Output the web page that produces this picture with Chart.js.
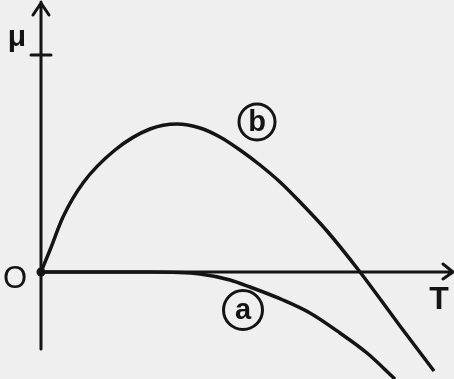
<!DOCTYPE html>
<html>
<head>
<meta charset="utf-8">
<script src="https://cdn.jsdelivr.net/npm/chart.js@4/dist/chart.umd.min.js"></script>
<style>
  html, body { margin: 0; padding: 0; background: #efefef; }
  canvas { display: block; }
</style>
</head>
<body>
<canvas id="canvas" width="454" height="379"></canvas>
<script>
// curve (b): rises from O, peaks, falls through the T axis
const curveBT  = [0, 0.225, 0.55, 1.05, 1.85, 2.725, 3.4, 3.975, 4.475, 4.975, 5.475, 5.975, 6.475, 7.15, 7.975, 8.975, 9.825];
const curveBMu = [0, 0.55, 1.375, 2.225, 3.05, 3.575, 3.7, 3.6, 3.375, 3.05, 2.675, 2.25, 1.75, 1.025, 0, -1.35, -2.475];

// curve (a): stays on the axis, then bends down
const curveAT  = [0, 1.5, 2.75, 3.975, 4.725, 5.225, 6.05, 6.725, 7.475, 8.15, 8.85];
const curveAMu = [0, 0, 0, -0.05, -0.2, -0.375, -0.7, -1.025, -1.525, -2.025, -2.675];

const axisLabels = { y: 'μ', x: 'T', origin: 'O' };
const curveNames = ['a', 'b'];
const nameSpots = [[5.05, -0.95], [5.4, 3.75]];   // (T, μ) of each circled name

const ink = '#141414';

const toPoints = (xs, ys) => xs.map((x, i) => ({ x: x, y: ys[i] }));

const axesPlugin = {
  id: 'axes',
  beforeDatasetsDraw(chart) {
    const { ctx, scales: { x, y } } = chart;
    const ox = x.getPixelForValue(0);
    const oy = y.getPixelForValue(0);
    const top = y.getPixelForValue(6.75);
    const bottom = y.getPixelForValue(-1.925);
    const right = x.getPixelForValue(10.3);
    const tick = y.getPixelForValue(5.425);

    ctx.save();
    ctx.strokeStyle = ink;
    ctx.fillStyle = ink;
    ctx.lineWidth = 3;
    ctx.lineCap = 'round';
    ctx.lineJoin = 'round';

    // μ axis with arrow head and one tick
    ctx.beginPath();
    ctx.moveTo(ox, bottom);
    ctx.lineTo(ox, top);
    ctx.moveTo(ox - 8, top + 13);
    ctx.lineTo(ox, top + 1);
    ctx.lineTo(ox + 8, top + 13);
    ctx.moveTo(ox - 10, tick);
    ctx.lineTo(ox + 10, tick);
    ctx.stroke();

    // T axis
    ctx.beginPath();
    ctx.moveTo(ox, oy);
    ctx.lineTo(right, oy);
    ctx.moveTo(right - 10, oy - 8);
    ctx.lineTo(right, oy);
    ctx.lineTo(right - 10, oy + 7);
    ctx.stroke();

    ctx.beginPath();
    ctx.arc(ox, oy, 4.5, 0, Math.PI * 2);
    ctx.fill();

    ctx.textAlign = 'center';
    ctx.textBaseline = 'middle';
    ctx.font = 'bold 30px "Liberation Sans", sans-serif';
    ctx.fillText(axisLabels.y, ox - 24, top + 36);
    ctx.font = '31px "Liberation Sans", sans-serif';
    ctx.fillText(axisLabels.origin, ox - 26, oy + 7);
    ctx.font = 'bold 32px "Liberation Sans", sans-serif';
    ctx.fillText(axisLabels.x, x.getPixelForValue(9.95), oy + 28);
    ctx.restore();
  },
  afterDatasetsDraw(chart) {
    const { ctx, scales: { x, y } } = chart;
    ctx.save();
    ctx.strokeStyle = ink;
    ctx.fillStyle = ink;
    ctx.lineWidth = 3;
    ctx.textAlign = 'center';
    ctx.textBaseline = 'middle';
    ctx.font = 'bold 29px "Liberation Sans", sans-serif';
    const radii = [19.5, 18];
    curveNames.forEach((name, i) => {
      const cx = x.getPixelForValue(nameSpots[i][0]);
      const cy = y.getPixelForValue(nameSpots[i][1]);
      ctx.beginPath();
      ctx.arc(cx, cy, radii[i], 0, Math.PI * 2);
      ctx.stroke();
      ctx.fillText(name, cx, cy + 1);
    });
    ctx.restore();
  }
};

const ctx = canvas.getContext('2d');

const config = {
  type: 'line',
  data: {
    datasets: [{
      label: 'a',
      data: toPoints(curveAT, curveAMu),
      borderColor: ink,
      borderWidth: 3.5,
      pointRadius: 0,
      cubicInterpolationMode: 'monotone',
      fill: false
    }, {
      label: 'b',
      data: toPoints(curveBT, curveBMu),
      borderColor: ink,
      borderWidth: 3.5,
      pointRadius: 0,
      cubicInterpolationMode: 'monotone',
      fill: false
    }]
  },
  options: {
    responsive: false,
    animation: false,
    layout: { padding: 0 },
    scales: {
      x: { type: 'linear', display: false, min: -1.025, max: 10.325 },
      y: { type: 'linear', display: false, min: -2.675, max: 6.8 }
    },
    plugins: {
      legend: { display: false },
      tooltip: { enabled: false }
    }
  },
  plugins: [axesPlugin]
};
const chart = new Chart(ctx, config);
</script>
</body>
</html>
